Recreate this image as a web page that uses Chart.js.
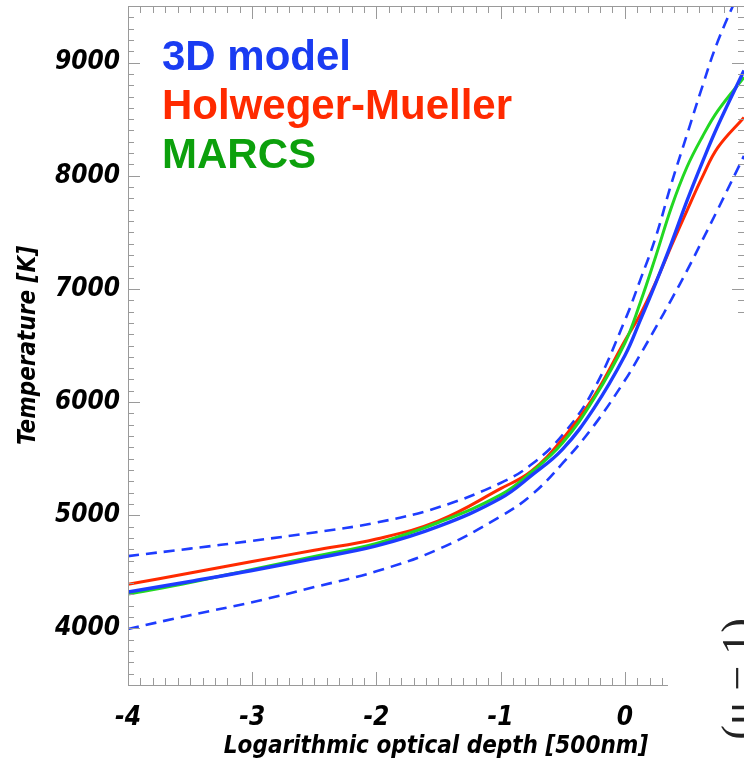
<!DOCTYPE html>
<html>
<head>
<meta charset="utf-8">
<script src="https://cdn.jsdelivr.net/npm/chart.js@4"></script>
<style>
  html, body { margin: 0; padding: 0; background: #fff; }
  #wrap { width: 744px; height: 764px; }
</style>
</head>
<body>
<div id="wrap"><canvas id="tempChart" width="744" height="764"></canvas></div>
<script>
// log tau (500nm) sample points
var depth = [-4, -3.5, -3, -2.5, -2, -1.5, -1, -0.75, -0.5, -0.25, 0, 0.125, 0.25, 0.375, 0.5, 0.625, 0.75, 0.96];

// temperatures in K
var model3d      = [4321, 4415, 4512, 4618, 4729, 4901, 5150, 5352, 5585, 5942, 6409, 6724, 7054, 7403, 7776, 8121, 8444, 8930];
var model3dUpper = [4639, 4705, 4774, 4848, 4935, 5070, 5285, 5450, 5710, 6110, 6720, 7080, 7460, 7930, 8360, 8790, 9190, 9720];
var model3dLower = [3995, 4117, 4232, 4365, 4505, 4700, 4990, 5180, 5460, 5790, 6190, 6420, 6660, 6905, 7160, 7430, 7705, 8175];
var holweger     = [4389, 4490, 4592, 4690, 4790, 4950, 5235, 5391, 5675, 6046, 6540, 6775, 7060, 7380, 7690, 7990, 8250, 8515];
var marcs        = [4303, 4406, 4521, 4636, 4751, 4936, 5180, 5382, 5640, 6027, 6520, 6880, 7290, 7720, 8075, 8345, 8575, 8870];

var legendNames = ['3D model', 'Holweger-Mueller', 'MARCS'];
var xTicks = [-4, -3, -2, -1, 0];
var yTicks = [4000, 5000, 6000, 7000, 8000, 9000];

var BLUE = '#1e3cff';
var RED = '#ff2a00';
var GREEN = '#22d822';
var legendColors = ['#1a3cf2', '#ff2a00', '#0ca00c'];

function pts(vals) {
    return depth.map(function(d, i) { return { x: d, y: vals[i] }; });
}

var axisFamily = "'Liberation Sans Narrow', 'DejaVu Sans Condensed', sans-serif";
var tickFont = { family: axisFamily, size: 26, style: 'italic', weight: 'bold' };

// IDL-style frame: inward major/minor ticks on all four sides
var framePlugin = {
    id: 'frame',
    afterDatasetsDraw: function(chart) {
        var ctx = chart.ctx, a = chart.chartArea;
        var x = chart.scales.x, y = chart.scales.y;
        ctx.save();
        ctx.strokeStyle = '#9a9a9a';
        ctx.lineWidth = 1;
        ctx.beginPath();
        ctx.moveTo(a.left, a.top + 0.5); ctx.lineTo(a.right, a.top + 0.5);
        ctx.moveTo(a.left + 0.5, a.top); ctx.lineTo(a.left + 0.5, a.bottom + 0.5);
        ctx.moveTo(a.left, a.bottom + 0.5); ctx.lineTo(a.right, a.bottom + 0.5);
        for (var i = -40; i <= 9; i++) {
            var px = Math.round(x.getPixelForValue(i / 10)) + 0.5;
            var len = (i % 10 === 0) ? 13 : 7;
            ctx.moveTo(px, a.bottom); ctx.lineTo(px, a.bottom - len);
            ctx.moveTo(px, a.top); ctx.lineTo(px, a.top + len);
        }
        for (var t = 3600; t <= 9400; t += 100) {
            var py = Math.round(y.getPixelForValue(t)) + 0.5;
            var l2 = (t % 1000 === 0) ? 12 : 6;
            ctx.moveTo(a.left, py); ctx.lineTo(a.left + l2, py);
            ctx.moveTo(a.right, py); ctx.lineTo(a.right - l2, py);
        }
        ctx.stroke();

        // the neighbouring panel overlaps the lower right corner
        ctx.fillStyle = '#fff';
        ctx.fillRect(668, 318, 80, 460);
        ctx.fillStyle = '#222';
        ctx.font = "44px 'Liberation Serif', 'DejaVu Serif', serif";
        ctx.translate(752, 618);
        ctx.rotate(-Math.PI / 2);
        ctx.textAlign = 'right';
        ctx.textBaseline = 'alphabetic';
        ctx.fillText('(\u03bc \u2212 1)', 0, 0);
        ctx.restore();
    },
    afterDraw: function(chart) {
        var ctx = chart.ctx, a = chart.chartArea;
        ctx.save();
        ctx.font = "bold 42px 'Liberation Sans', Arial, sans-serif";
        ctx.textAlign = 'left';
        ctx.textBaseline = 'alphabetic';
        legendNames.forEach(function(name, i) {
            ctx.fillStyle = legendColors[i];
            ctx.fillText(name, a.left + 34, a.top + 64 + i * 49);
        });
        ctx.restore();
    }
};

var ctx = document.getElementById('tempChart').getContext('2d');
var myChart = new Chart(ctx, {
    type: 'line',
    data: {
        datasets: [
            { label: legendNames[0], data: pts(model3d), borderColor: BLUE, borderWidth: 3.4, order: 0 },
            { label: legendNames[2], data: pts(marcs), borderColor: GREEN, borderWidth: 3, order: 1 },
            { label: legendNames[1], data: pts(holweger), borderColor: RED, borderWidth: 3, order: 2 },
            { label: '3D upper', data: pts(model3dUpper), borderColor: BLUE, borderWidth: 2.6, borderDash: [11, 7], order: 3 },
            { label: '3D lower', data: pts(model3dLower), borderColor: BLUE, borderWidth: 2.6, borderDash: [11, 7], order: 4 }
        ]
    },
    options: {
        responsive: false,
        animation: false,
        elements: { point: { radius: 0 }, line: { fill: false, tension: 0.4 } },
        layout: { padding: { top: 6, right: 0, left: 0, bottom: 0 } },
        plugins: { legend: { display: false }, tooltip: { enabled: false } },
        scales: {
            x: {
                type: 'linear',
                min: -4,
                max: 0.96,
                grid: { display: false, drawTicks: false },
                border: { display: false },
                afterBuildTicks: function(s) { s.ticks = xTicks.map(function(v) { return { value: v }; }); },
                afterFit: function(s) { s.height = 79; s.paddingLeft = 0; s.paddingRight = 0; },
                ticks: { color: '#000', font: tickFont, padding: 18, maxRotation: 0, callback: function(v) { return String(v); } },
                title: { display: true, text: 'Logarithmic optical depth [500nm]', color: '#000', font: { family: axisFamily, size: 24, style: 'italic', weight: 'bold' }, padding: { top: 0, bottom: 3 } }
            },
            y: {
                min: 3500,
                max: 9500,
                grid: { display: false, drawTicks: false },
                border: { display: false },
                afterBuildTicks: function(s) { s.ticks = yTicks.map(function(v) { return { value: v }; }); },
                afterFit: function(s) { s.width = 128; s.paddingTop = 0; s.paddingBottom = 0; },
                ticks: { color: '#000', font: tickFont, padding: 8, callback: function(v) { return String(v); } },
                title: { display: true, text: 'Temperature [K]', color: '#000', font: { family: axisFamily, size: 24, style: 'italic', weight: 'bold' }, padding: { top: 14, bottom: 0 } }
            }
        }
    },
    plugins: [framePlugin]
});
</script>
</body>
</html>
